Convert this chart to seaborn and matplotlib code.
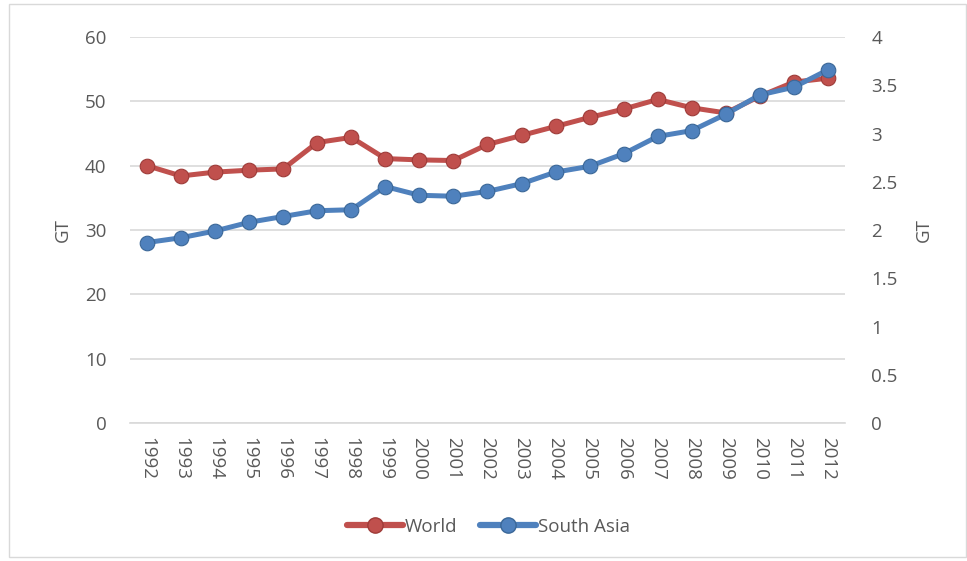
import matplotlib
matplotlib.use("Agg")
import matplotlib.pyplot as plt
import seaborn as sns
import pandas as pd
from matplotlib.lines import Line2D

years = [str(y) for y in range(1992, 2013)]
world = [40.0, 38.4, 39.0, 39.3, 39.5, 43.6, 44.4, 41.1, 40.9, 40.8, 43.3,
         44.7, 46.1, 47.5, 48.8, 50.3, 49.0, 48.2, 50.8, 53.0, 53.6]
south_asia = [1.87, 1.92, 1.99, 2.08, 2.14, 2.20, 2.21, 2.45, 2.36, 2.35, 2.40,
              2.48, 2.60, 2.66, 2.79, 2.97, 3.03, 3.20, 3.40, 3.48, 3.66]
left_ticks = [0, 10, 20, 30, 40, 50, 60]
right_ticks = [0, 0.5, 1, 1.5, 2, 2.5, 3, 3.5, 4]
right_labels = ["0", "0.5", "1", "1.5", "2", "2.5", "3", "3.5", "4"]

sns.set_style("white")
plt.rcParams['font.family'] = ['Open Sans', 'DejaVu Sans']

red = "#c0504d"
blue = "#4f81bd"
txt = "#595959"
fs = 13.5

df = pd.DataFrame({"Year": years, "World": world, "South Asia": south_asia})
df["x"] = range(len(years))

fig = plt.figure(figsize=(9.67, 5.61), dpi=100)
fig.patches.append(plt.Rectangle((0.009, 0.008), 0.99, 0.985, transform=fig.transFigure,
                                 fill=False, edgecolor="#d9d9d9", lw=1))
ax = fig.add_axes([0.1344, 0.246, 0.7394, 0.688])
ax2 = ax.twinx()

sns.lineplot(data=df, x="x", y="World", ax=ax, color=red, lw=3.6, marker="o",
             markersize=10.5, markeredgecolor="#9e3b38", markeredgewidth=0.8, zorder=3)
sns.lineplot(data=df, x="x", y="South Asia", ax=ax2, color=blue, lw=3.6, marker="o",
             markersize=10.5, markeredgecolor="#3a6798", markeredgewidth=0.8, zorder=3)

ax.set_xlim(-0.5, len(years) - 0.5)
ax.set_ylim(0, 60)
ax2.set_ylim(0, 4)
ax.set_yticks(left_ticks)
ax.set_yticklabels([str(t) for t in left_ticks])
ax2.set_yticks(right_ticks)
ax2.set_yticklabels(right_labels)
ax.set_xticks(range(len(years)))
ax.set_xticklabels(years, rotation=-90)

ax.yaxis.grid(True, color="#d9d9d9", lw=1.2)
ax.set_axisbelow(True)
for a in (ax, ax2):
    for s in a.spines.values():
        s.set_visible(False)
    a.tick_params(length=0, labelsize=fs, labelcolor=txt)
ax.spines["bottom"].set_visible(True)
ax.spines["bottom"].set_color("#d9d9d9")
ax.spines["bottom"].set_linewidth(1.2)
ax.tick_params(axis="y", pad=17)
ax2.tick_params(axis="y", pad=19)
ax.tick_params(axis="x", pad=10)

ax.set_xlabel("")
ax.set_ylabel("GT", fontsize=fs, color=txt, labelpad=9)
ax2.set_ylabel("GT", fontsize=fs, color=txt, labelpad=12)

handles = [Line2D([], [], color=red, lw=4.5, marker="o", markersize=11,
                  markeredgecolor="#9e3b38"),
           Line2D([], [], color=blue, lw=4.5, marker="o", markersize=11,
                  markeredgecolor="#3a6798")]
fig.legend(handles, ["World", "South Asia"], loc="center", bbox_to_anchor=(0.505, 0.061),
           ncol=2, frameon=False, fontsize=fs, labelcolor=txt, handlelength=3.0,
           handletextpad=0.1, columnspacing=1.2)

fig.savefig("out.png", dpi=100)
